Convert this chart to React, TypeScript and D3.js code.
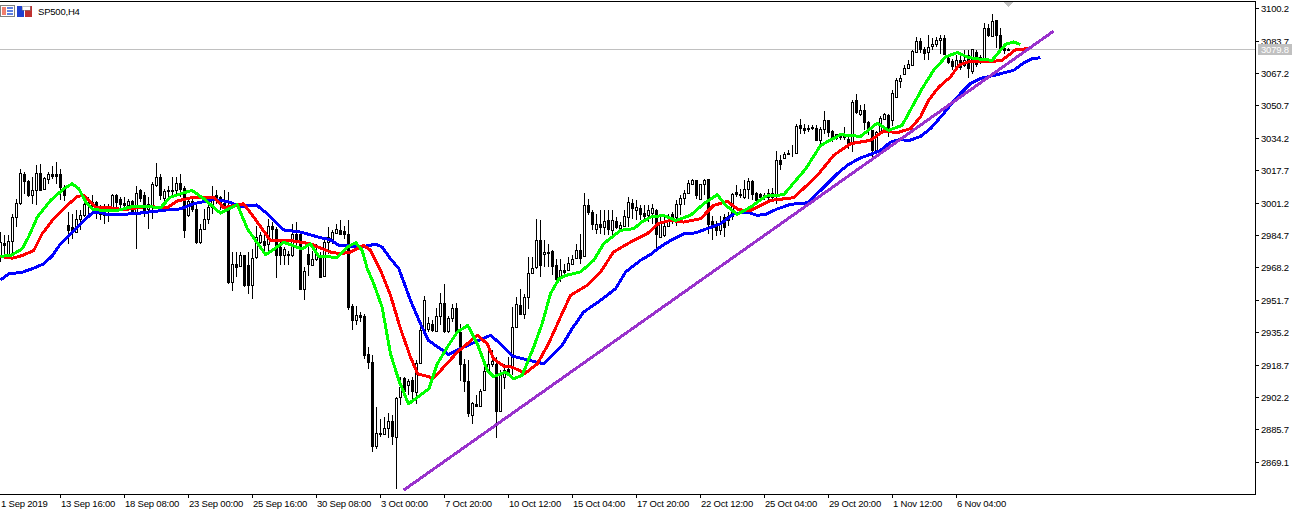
import React from "react";
import * as d3 from "d3";

const W = 1305, H = 513, PLOT_R = 1255, PLOT_B = 494;
const FONT = "'Liberation Sans', Arial, sans-serif";

// [open, high, low, close]
type C = number[];
const candlesA: C[] = [
[2973.4,2986.2,2970.9,2981.0],[2980.7,2984.5,2973.4,2979.4],[2974.3,2984.5,2972.6,2981.9],[2981.6,2995.5,2975.1,2994.1],[2993.8,3003.2,2988.7,3001.1],
[3001.1,3018.5,2999.8,3016.4],[3015.9,3016.8,3005.7,3012.2],[3012.2,3012.5,3004.0,3004.9],[3004.9,3014.2,3000.6,3007.7],[3007.7,3020.2,2999.8,3016.4],
[3016.4,3020.7,3007.1,3007.4],[3008.3,3014.2,3007.4,3013.9],[3013.4,3016.8,3010.8,3015.9],[3015.9,3019.8,3013.4,3014.7],[3015.6,3022.0,3010.8,3014.9],
[3015.6,3018.5,3002.3,3009.1],[3009.1,3010.0,3002.0,3004.9],[2990.0,2996.4,2980.2,2987.0],[2988.7,2995.5,2982.8,2986.2],[2986.2,2997.2,2986.2,2993.0],
[2993.0,2997.2,2987.0,2994.7],[2994.7,3005.7,2993.8,3000.6],[3000.6,3004.0,2993.8,3001.5],[3001.5,3005.0,2995.5,3000.0],[3001.5,3002.0,2993.0,2998.0],
[2995.5,2999.8,2992.1,2997.2],[2994.7,3000.6,2990.4,2998.0],[2998.0,3000.6,2991.3,2997.0],[2998.0,3005.7,2997.2,3004.9],[3004.9,3005.7,2998.0,3001.5],
[3002.8,3004.0,2998.0,3000.3],[3000.9,3004.0,2997.2,2999.8],[3000.1,3002.8,2998.0,3001.8],[3001.8,3002.3,2995.5,2996.4],[2996.4,3009.4,2977.7,3006.2],
[3007.4,3008.3,3001.5,3003.7],[3004.9,3006.5,2993.8,2997.2],[2998.0,3004.0,2987.9,3000.6],[2999.8,3011.7,2993.0,3010.8],[3010.0,3021.5,3009.1,3014.2],
];
const candlesB: C[] = [
[3014.2,3015.9,3002.3,3004.9],[3003.7,3008.3,2998.0,3007.1],[3007.4,3009.9,3004.0,3006.9],[3007.1,3014.2,3004.0,3007.7],[3007.4,3014.2,3004.0,3011.3],
[3011.3,3015.6,3004.0,3008.3],[3008.8,3009.9,2983.3,2987.3],[2995.0,3003.2,2993.8,3002.0],[3001.8,3004.0,2996.4,2997.7],[2998.0,2999.8,2980.2,2981.0],
[2981.0,2990.4,2980.2,2987.9],[2987.9,2998.0,2987.0,2993.0],[2993.0,3004.0,2990.4,2998.9],[2998.9,3009.9,2995.5,3004.0],[3005.2,3007.4,3000.6,3004.0],
[3004.0,3004.5,2997.2,3001.0],[3001.0,3007.4,2998.9,3000.0],[2998.9,3006.5,2959.8,2960.6],[2960.6,2976.0,2956.4,2970.0],[2969.7,2976.0,2963.2,2968.3],
[2968.8,2976.0,2968.3,2974.3],[2974.3,2974.6,2958.1,2959.0],[2969.2,2976.0,2954.7,2959.0],[2959.0,2977.7,2952.2,2973.0],[2973.4,2989.5,2972.6,2983.9],
[2981.0,2986.2,2980.2,2984.5],[2981.9,2986.2,2974.3,2979.4],[2980.2,2993.0,2975.1,2989.5],[2989.5,2991.2,2982.8,2987.9],[2987.9,2988.7,2962.9,2974.3],
[2978.5,2981.9,2969.2,2974.3],[2974.3,2978.5,2969.2,2977.7],[2974.3,2976.8,2969.2,2975.1],[2974.3,2990.4,2973.4,2985.3],[2985.3,2991.2,2978.5,2982.8],
[2985.3,2986.2,2957.0,2957.3],[2957.3,2968.3,2951.8,2966.6],[2975.1,2980.2,2964.0,2970.0],[2969.2,2976.8,2969.0,2972.6],[2972.3,2980.2,2971.7,2975.1],
[2974.3,2976.0,2963.2,2963.5],[2964.0,2982.8,2963.2,2981.0],[2981.0,2988.7,2975.1,2983.9],
];
const candlesC: C[] = [
[2982.9,2987.1,2980.3,2986.3],[2985.9,2990.2,2985.4,2987.9],[2987.4,2992.5,2984.6,2985.4],[2986.8,2989.1,2982.9,2985.4],[2985.4,2992.2,2946.3,2948.0],
[2948.5,2949.7,2936.1,2941.5],[2941.5,2948.3,2938.7,2944.1],[2944.1,2945.4,2940.3,2942.9],[2943.2,2944.6,2921.7,2923.4],[2923.9,2927.9,2916.5,2919.9],
[2919.9,2923.4,2874.1,2877.1],[2877.1,2897.3,2875.8,2883.9],[2883.9,2891.0,2881.7,2883.4],[2883.4,2891.9,2883.1,2886.5],[2886.5,2893.9,2881.4,2890.2],
[2889.9,2892.8,2877.8,2882.2],[2882.0,2902.4,2855.4,2901.8],[2902.1,2912.3,2897.9,2907.2],[2912.0,2912.3,2902.1,2905.5],[2908.1,2911.4,2903.0,2910.3],
[2911.1,2912.3,2900.4,2905.2],[2904.7,2921.1,2898.4,2919.6],[2919.6,2938.7,2919.1,2936.4],[2936.4,2953.4,2935.8,2951.4],[2937.0,2942.9,2935.3,2940.0],
[2939.5,2941.2,2935.3,2936.1],[2935.8,2947.7,2935.3,2943.2],[2943.2,2955.1,2938.7,2950.0],[2950.0,2959.6,2934.7,2935.8],[2935.8,2943.2,2934.7,2942.6],
[2942.6,2949.7,2940.3,2947.7],[2947.7,2950.0,2934.4,2935.3],[2935.3,2939.5,2910.6,2919.1],[2919.1,2921.7,2904.7,2910.6],[2910.6,2920.8,2891.9,2894.1],
[2893.1,2899.6,2888.2,2899.2],[2898.7,2903.0,2897.0,2897.5],[2897.5,2906.4,2897.0,2905.5],[2905.8,2919.1,2905.8,2915.4],[2915.7,2929.3,2914.0,2919.1],
[2919.1,2925.9,2917.4,2920.5],[2919.1,2922.5,2881.4,2895.0],
];
const candlesD: C[] = [
[2895.3,2915.7,2895.0,2913.2],[2912.3,2919.1,2906.4,2915.7],[2916.6,2922.5,2914.0,2914.9],[2917.4,2948.0,2913.2,2938.1],[2938.1,2953.1,2937.8,2949.7],
[2948.9,2957.4,2943.8,2944.6],[2944.6,2954.8,2942.0,2953.1],[2953.1,2973.5,2947.2,2965.3],[2965.3,2973.5,2964.7,2968.0],[2968.4,2993.0,2967.5,2982.3],
[2982.3,2992.2,2963.3,2969.3],[2975.2,2982.0,2968.4,2976.0],[2976.0,2980.3,2968.4,2975.5],[2976.4,2976.9,2964.2,2968.9],[2969.3,2972.7,2959.9,2962.4],
[2963.0,2972.7,2960.8,2967.0],[2967.0,2970.1,2964.2,2965.9],[2967.0,2973.5,2966.4,2970.4],[2970.1,2974.3,2969.3,2972.7],[2973.2,2980.3,2972.7,2977.2],
[2977.2,2985.4,2970.1,2973.2],[2973.8,3006.0,2973.5,2999.8],[2999.8,3003.0,2994.8,2996.5],[2996.5,2997.3,2987.4,2990.5],[2987.6,2995.6,2985.4,2990.5],
[2990.5,2997.3,2985.4,2988.8],[2988.8,2997.3,2984.6,2991.7],[2992.2,2997.3,2984.6,2988.0],[2987.1,2997.3,2983.7,2992.2],[2991.9,2993.9,2988.0,2988.8],
[2988.5,2991.4,2987.1,2989.7],[2989.1,2997.6,2988.8,2994.2],[2993.9,3004.1,2988.8,3001.5],[3001.0,3003.2,2993.0,2998.5],[2997.3,3002.4,2992.2,2999.0],
[2998.7,2999.9,2992.2,2995.6],[2996.0,2999.9,2993.0,2994.2],[2994.7,2999.9,2991.4,2997.3],[2995.7,3000.7,2990.5,2998.4],
];
const candlesE: C[] = [
[2997.5,2998.0,2976.8,2985.3],[2983.6,2995.5,2983.3,2991.2],[2984.5,2995.5,2983.6,2989.5],[2989.5,2995.5,2989.0,2992.5],[2995.5,2996.4,2990.4,2993.0],
[2993.8,3002.3,2989.5,3000.6],[3000.6,3004.9,2994.7,3003.7],[3003.7,3007.4,2999.8,3006.2],[3006.2,3012.5,3005.7,3011.3],[3010.8,3013.4,3010.0,3012.5],
[3012.5,3012.8,3003.2,3004.9],[3002.8,3010.8,3002.3,3010.5],[3010.5,3013.4,3004.9,3012.8],[3013.0,3013.4,2985.3,2990.1],[2991.8,2994.6,2982.2,2988.7],
[2989.5,2992.0,2984.0,2987.0],[2987.0,2994.6,2984.5,2990.4],[2993.8,2995.5,2983.6,2988.7],[2992.1,2996.3,2989.5,2994.6],[2994.6,3006.0,2992.1,3005.7],
[3006.7,3010.0,3004.0,3005.4],[3005.7,3008.2,3003.7,3005.0],[3004.0,3012.5,3003.2,3008.2],[3008.2,3013.9,3003.2,3012.0],[3012.0,3012.5,3002.3,3005.4],
[3006.2,3006.5,3000.6,3002.3],[3005.4,3006.0,3002.3,3004.3],[3004.9,3006.0,3002.3,3004.0],[3004.0,3008.2,3002.3,3006.0],[3006.0,3008.8,3001.5,3004.0],
[3004.9,3027.3,3000.6,3023.0],[3023.0,3025.2,3017.9,3020.7],[3024.0,3027.0,3024.0,3026.1],[3026.4,3027.8,3025.3,3025.8],[3026.6,3030.4,3024.4,3026.4],
[3026.4,3041.4,3026.1,3040.0],[3040.5,3044.0,3036.3,3039.4],[3039.4,3041.4,3036.3,3038.3],[3039.4,3040.5,3037.2,3038.7],[3039.7,3040.5,3038.0,3039.0],
[3039.4,3040.5,3032.6,3032.9],[3032.9,3039.7,3031.2,3038.8],[3038.8,3047.7,3036.3,3043.4],[3043.4,3043.5,3034.6,3037.2],[3037.7,3038.0,3032.0,3034.3],
[3034.3,3036.3,3033.2,3036.0],[3035.0,3036.3,3032.9,3034.5],[3034.5,3039.7,3032.9,3035.5],
];
const candlesF: C[] = [
[3033.8,3036.3,3028.6,3031.2],[3031.2,3053.5,3027.0,3052.5],[3053.3,3056.5,3046.5,3047.4],[3046.5,3050.8,3045.1,3048.5],[3048.5,3051.6,3038.0,3042.3],
[3042.3,3043.0,3035.5,3038.0],[3038.0,3038.3,3023.5,3027.8],[3028.1,3037.7,3025.2,3037.2],[3037.2,3045.1,3035.5,3044.5],[3044.0,3046.8,3043.1,3046.2],
[3045.6,3046.5,3034.6,3038.9],[3043.4,3058.4,3040.0,3057.2],[3055.0,3064.9,3054.7,3063.5],[3063.2,3066.0,3059.8,3064.9],[3066.6,3071.1,3066.0,3069.8],
[3069.8,3073.7,3069.5,3072.0],[3071.5,3078.8,3071.2,3078.3],[3078.0,3085.6,3077.6,3083.4],[3083.4,3084.8,3077.4,3079.3],[3079.6,3080.5,3073.7,3077.4],
[3078.0,3086.8,3074.0,3080.5],[3081.0,3084.8,3078.8,3081.9],[3081.9,3085.3,3080.5,3084.2],[3084.2,3086.5,3077.1,3084.8],[3084.8,3086.5,3076.2,3077.1],
[3075.0,3077.1,3072.0,3072.9],[3073.2,3074.5,3068.9,3070.8],[3070.6,3076.2,3070.3,3074.0],[3074.0,3076.2,3068.6,3070.3],[3071.1,3078.8,3070.3,3073.7],
[3076.2,3078.8,3064.9,3069.5],[3068.3,3079.6,3066.6,3079.3],[3078.0,3078.8,3070.3,3072.0],[3072.9,3076.2,3072.0,3075.4],[3073.2,3092.7,3072.9,3089.9],
[3089.9,3092.4,3085.6,3086.5],[3086.1,3097.5,3085.9,3093.8],[3094.1,3094.1,3079.7,3086.5],[3086.5,3089.9,3079.1,3079.6],[3080.0,3080.5,3077.1,3079.1],
[3079.6,3080.0,3078.8,3079.1],
];
const candles: C[] = [...candlesA, ...candlesB, ...candlesC, ...candlesD, ...candlesE, ...candlesF];

// moving averages, [bar, price]
const blueA = [[0,2961.8],[2,2964.9],[5.4,2965.7],[8.3,2967.8],[10.8,2970],[13,2974.2],[15,2980.2],[18,2986.2],[20.4,2991.2],[23,2996],[25,2996.3],[26.7,2995],[33.3,2995.5],[36.7,2996.3],[41.7,2997.5],[45,2998],[48.3,3000.6],[53.3,3002.8],[56.7,3001.8],[60,2999.2],[64,3000],[66.7,2995.5],[70.8,2987.3],[75,2986.2],[80,2983.3]];
const blueB = [[82.5,2982.3],[84.6,2979.4],[87,2979.1],[90.8,2978.9],[93.8,2980],[95.4,2978.6],[97.5,2972.6],[99.6,2967.5],[102.5,2951.4],[105,2939.5],[107,2931],[110,2926.7],[112,2923.9],[115.8,2927.6],[119.2,2930.7],[122.5,2933.6],[125,2929.3],[128,2923],[131.7,2921.1],[135.8,2919.1],[138,2923.4],[140.4,2928.5],[142.9,2937],[145.8,2945.5],[150,2951.4],[153.8,2957.4],[156.3,2965.9],[160,2971.8]];
const blueC = [[162.5,2974.8],[165,2978.7],[167.5,2981.9],[170.8,2985.3],[173.8,2985.8],[177,2988.2],[180,2990.4],[183.3,2995.5],[186.7,2996.4],[189.2,2994.7],[191.3,2995.2],[194.2,2998],[197.5,3000.3],[201.7,3001.1],[205,3007.4],[209.2,3015.9],[211.7,3020.2],[215,3024],[218,3026.1]];
const blueD = [[220,3027.8],[222.5,3032],[225,3033.4],[227,3032.7],[230,3034.9],[232.5,3038.9],[235.4,3045.6],[238.8,3054.2],[242.5,3061.9],[245,3064.4],[249.2,3066.4],[253.3,3068.6],[255.8,3072.3],[258,3074.5],[260,3075]];
const redA = [[0,2973.7],[3,2972.9],[5.4,2974.2],[8.3,2976.8],[10.4,2985.3],[13.3,2993],[16.7,2999.8],[19.2,3004.3],[20.8,3004.9],[23.8,2998.9],[27.5,2998.6],[30.8,2997.5],[34.2,2998.6],[36.7,2999.2],[41.7,2998.6],[44.2,3002],[48.3,3004],[53.3,3004],[55.8,2998.6],[60.8,3000.6],[63.3,2993.8],[67.5,2981.9],[72.5,2981.9],[77.5,2980.2]];
const redB = [[82.5,2976],[85,2975.2],[87.5,2976],[90.8,2979.4],[92.5,2976.9],[95,2966.7],[97.5,2954],[100,2937],[102.5,2922.5],[104.3,2914],[108.3,2911.8],[110.8,2917.4],[114.2,2925],[119.2,2933.6],[121.7,2929.3],[123.3,2921.6],[125.8,2917.9],[127.9,2917.4],[131.2,2914.3],[134.2,2919.1],[137,2929.3],[140,2942.9],[142.5,2954],[146.7,2959.1],[150,2965.9],[153.3,2976.1],[158.3,2982],[161.7,2985.4]];
const redC = [[164.6,2990.7],[167.5,2992.1],[170.8,2991.3],[175,2993],[178.3,2999.8],[181.7,3001.8],[184.6,2997.5],[187.5,2997.2],[192.5,3002.3],[198.3,3003.7],[204.2,3015],[208.3,3025.3],[212.5,3031.2],[217.5,3032.9]];
const redD = [[220.8,3037.7],[224.2,3036.8],[227.5,3038.9],[230,3044.8],[232,3053.3],[234.6,3060.1],[237.5,3065.2],[239.6,3071.2],[242,3072.9],[247.5,3072.9],[250.4,3073.7],[253.8,3079.1],[257,3079.6]];
const greenA = [[0,2973.9],[2.5,2974.2],[5.4,2977.6],[7,2983.6],[9.2,2993.8],[12.5,3002.3],[15.8,3008.2],[17.9,3010.8],[19.6,3008.2],[21.3,3001.5],[23.3,2997.5],[29.2,2997.2],[33.3,2999.4],[36.7,2999.2],[40,2998.6],[42.5,3004],[45,3005.7],[47.9,3007.4],[50.8,3003.2],[55,2995.8],[59.2,3000.3],[61.7,2987.9],[66.3,2974.6],[70.8,2981],[75.4,2977.6],[77.5,2980.2],[79.6,2973.7]];
const greenB = [[82.5,2973.5],[84.2,2973.2],[86.7,2978.6],[88.8,2980.8],[90.4,2976.9],[91.7,2967.5],[93.3,2959.9],[95.4,2948],[97.5,2924.2],[99.6,2910.6],[102,2898.7],[107.1,2906.4],[109.2,2919.1],[111.7,2927.6],[114.2,2935.3],[116.8,2938.7],[119.2,2929.3],[121.7,2915.7],[123.3,2912.6],[126.3,2914.9],[128.3,2911.5],[130.4,2913.2],[133.3,2927.6],[135.4,2939.5],[137.5,2954.8],[139.6,2962.4],[141.3,2964.1],[145,2965.9],[148.3,2971.8],[150.8,2980.3],[155,2987.1],[158.3,2987.9],[160.4,2991.4]];
const greenC = [[162.5,2993.8],[165.8,2994.7],[168.8,2992.1],[172.5,2994.7],[175.8,3000.6],[179.2,3005.2],[181.3,2999.8],[184.2,2995.2],[187.5,2998.9],[191.3,3004.5],[195.8,3005.2],[201.3,3018.4],[205,3030.3],[210,3035.8],[215,3034.9],[219.2,3041.7]];
const greenD = [[222,3038],[225.4,3040.5],[227.9,3049.9],[230.4,3059.2],[233.3,3068.6],[236.3,3075.4],[239.2,3077.6],[242,3075.1],[245,3074.2],[247.9,3073.7],[251.3,3081.9],[253.3,3083],[255,3081.7]];
const trendStart = [100.75, 2854.7];
const trendEnd = [263.25, 3088.5];

const symbol = "SP500,H4";
const lastPrice = 3079.8;
const priceTicks = [3100.2,3083.7,3067.2,3050.7,3034.2,3017.7,3001.2,2984.7,2968.2,2951.7,2935.2,2918.7,2902.2,2885.7,2869.1];
const timeBars = [15,31,47,63,79,95,111,127,143,159,175,191,207,223,239];
const timeLabels = ["13 Sep 16:00","18 Sep 08:00","23 Sep 00:00","25 Sep 16:00","30 Sep 08:00","3 Oct 00:00","7 Oct 20:00","10 Oct 12:00","15 Oct 04:00","17 Oct 20:00","22 Oct 12:00","25 Oct 04:00","29 Oct 20:00","1 Nov 12:00","6 Nov 04:00"];
const firstLabel = "1 Sep 2019";

const x = d3.scaleLinear().domain([0, 1]).range([0.5, 4.5]);
const y = d3.scaleLinear().domain([3100.2, 2869.1]).range([8.2, 462]);
const lineGen = d3.line<number[]>().x(d => x(d[0])).y(d => y(d[1])).curve(d3.curveLinear);
const series: [number[][], string][] = [
  [[...blueA, ...blueB, ...blueC, ...blueD], "#0000ff"],
  [[...redA, ...redB, ...redC, ...redD], "#ff0000"],
  [[...greenA, ...greenB, ...greenC, ...greenD], "#00ff00"],
];

export default function App() {
  const lastX = x(candles.length - 1);
  const snap = (v: number) => Math.round(v);
  const txt = { fontSize: 9.5, letterSpacing: -0.2 };
  return (
    <svg width={W} height={H} style={{ position: "absolute", left: 0, top: 0, display: "block", background: "#fff" }} fontFamily={FONT} fontSize={10}>
      <defs>
        <clipPath id="plot"><rect x={0} y={2} width={PLOT_R} height={PLOT_B - 2} /></clipPath>
      </defs>
      <g clipPath="url(#plot)" shapeRendering="crispEdges">
        <line x1={0} x2={PLOT_R} y1={Math.ceil(y(lastPrice)) + 0.5} y2={Math.ceil(y(lastPrice)) + 0.5} stroke="#c0c0c0" />
        {candles.map((c, i) => {
          const cx = x(i);
          const top = snap(y(Math.max(c[0], c[3])));
          const bot = snap(y(Math.min(c[0], c[3])));
          const up = c[3] >= c[0];
          return (
            <g key={i}>
              <line x1={cx} x2={cx} y1={snap(y(c[1]))} y2={snap(y(c[2]))} stroke="#000" />
              <rect x={cx - 1} y={top + 0.5} width={2} height={Math.max(bot - top, 0)} fill={up ? "#fff" : "#000"} stroke="#000" />
            </g>
          );
        })}
        {series.map(([pts, col], i) => (
          <path key={i} d={lineGen(pts) as string} fill="none" stroke={col} strokeWidth={3} strokeLinejoin="round" />
        ))}
        <line x1={x(trendStart[0])} y1={y(trendStart[1])} x2={x(trendEnd[0])} y2={y(trendEnd[1])} stroke="#9932cc" strokeWidth={3} />
        <path d={`M${lastX - 5},2H${lastX + 5}L${lastX},7Z`} fill="#c0c0c0" />
      </g>

      <g shapeRendering="crispEdges">
        <line x1={0} x2={PLOT_R + 1} y1={1.5} y2={1.5} stroke="#000" />
        <line x1={PLOT_R + 0.5} x2={PLOT_R + 0.5} y1={1} y2={PLOT_B + 1} stroke="#000" />
        <line x1={0} x2={PLOT_R + 1} y1={PLOT_B + 0.5} y2={PLOT_B + 0.5} stroke="#000" />
        {priceTicks.map((p, i) => (
          <line key={i} x1={PLOT_R} x2={PLOT_R + 4} y1={snap(y(p)) + 0.5} y2={snap(y(p)) + 0.5} stroke="#000" />
        ))}
        {timeBars.map((b, i) => (
          <line key={i} x1={x(b)} x2={x(b)} y1={PLOT_B} y2={PLOT_B + 4} stroke="#000" />
        ))}
      </g>
      {priceTicks.map((p, i) => (
        <text key={i} x={1261} y={y(p) + 4} fill="#000" {...txt}>{p.toFixed(1)}</text>
      ))}
      <rect x={1258} y={44} width={34} height={11} fill="#c0c0c0" shapeRendering="crispEdges" />
      <text x={1261} y={53} fill="#fff" {...txt}>{lastPrice.toFixed(1)}</text>
      <text x={1} y={506.5} fill="#000" {...txt}>{firstLabel}</text>
      {timeBars.map((b, i) => (
        <text key={i} x={x(b) + 0.5} y={506.5} fill="#000" {...txt}>{timeLabels[i]}</text>
      ))}

      <g shapeRendering="crispEdges">
        <rect x={0.5} y={5.5} width={14} height={11} fill="#fff" stroke="#808080" />
        <rect x={2} y={7} width={4} height={8} fill="#f08070" />
        <rect x={7} y={7} width={6} height={2} fill="#6080e0" />
        <rect x={7} y={10} width={6} height={2} fill="#6080e0" />
        <rect x={7} y={13} width={6} height={2} fill="#6080e0" />
        <rect x={17} y={6} width={7} height={11} fill="#2040d0" />
        <rect x={25} y={6} width={7} height={11} fill="#c03030" />
        <rect x={22} y={6} width={8} height={4} fill="#fff" stroke="#808080" strokeWidth={0.5} />
      </g>
      <text x={38} y={15} fill="#000" {...txt}>{symbol}</text>
    </svg>
  );
}
